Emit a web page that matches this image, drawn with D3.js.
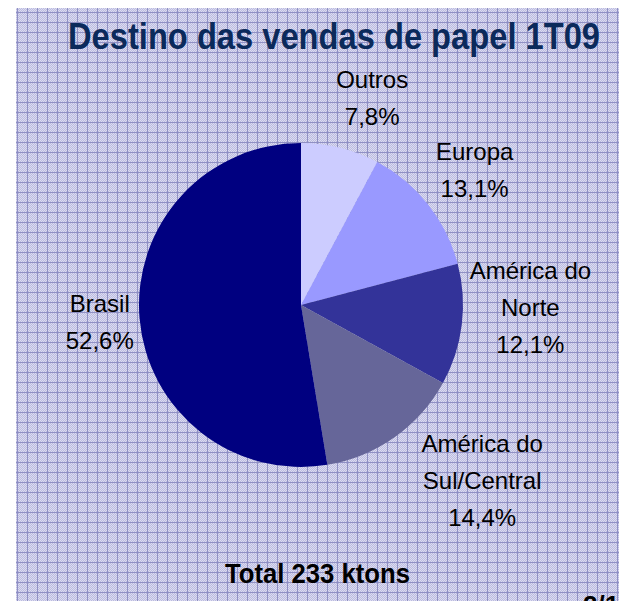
<!DOCTYPE html>
<html>
<head>
<meta charset="utf-8">
<script src="https://cdn.jsdelivr.net/npm/d3@7"></script>
<style>
  body { margin: 0; background: #fff; }
  svg { display: block; }
</style>
</head>
<body>
<svg id="chart" width="619" height="601"></svg>
<script>
// data
var categories = ["Outros", "Europa", "América do Norte", "América do Sul/Central", "Brasil"];
var shares = [7.8, 13.1, 12.1, 14.4, 52.6];
var labelLines = [["Outros", "7,8%"], ["Europa", "13,1%"], ["América do", "Norte", "12,1%"],
                  ["América do", "Sul/Central", "14,4%"], ["Brasil", "52,6%"]];
var sliceColors = ["#ccccff", "#9999ff", "#333399", "#666699", "#000080"];
var titleText = "Destino das vendas de papel 1T09";
var totalText = "Total 233 ktons";

var width = 619, height = 601;
var cx = 301, cy = 305, radius = 162;
// label nudges from the outer label ring (Excel placed them by hand-ish)
var labelNudge = [[19, 2], [5, -2], [16, -24], [57, 0], [13, -1]];

var svg = d3.select("#chart");
var defs = svg.append("defs");

// dithered checker
var chk = defs.append("pattern").attr("id", "chk")
    .attr("width", 2).attr("height", 2).attr("patternUnits", "userSpaceOnUse");
chk.append("rect").attr("width", 2).attr("height", 2).attr("fill", "#dcdcf0");
chk.append("rect").attr("width", 1).attr("height", 1).attr("fill", "#bcbce0");
chk.append("rect").attr("x", 1).attr("y", 1).attr("width", 1).attr("height", 1).attr("fill", "#bcbce0");

// grid cells
var grid = defs.append("pattern").attr("id", "grid")
    .attr("width", 10).attr("height", 10).attr("patternUnits", "userSpaceOnUse")
    .attr("x", 17).attr("y", 12);
grid.append("rect").attr("width", 10).attr("height", 10).attr("fill", "url(#chk)");
grid.append("rect").attr("width", 1).attr("height", 10).attr("fill", "#9090c4");
grid.append("rect").attr("width", 10).attr("height", 1).attr("fill", "#9090c4");

svg.append("rect")
    .attr("x", 16).attr("y", 8)
    .attr("width", width - 16).attr("height", height - 8)
    .attr("fill", "url(#grid)");

// title
svg.append("text")
    .attr("x", 68).attr("y", 49)
    .attr("textLength", 532).attr("lengthAdjust", "spacingAndGlyphs")
    .style("font-family", "'Liberation Sans', Arial, sans-serif")
    .style("font-weight", "bold").style("font-size", "36px")
    .attr("fill", "#0b2a5b")
    .text(titleText);

// pie
var color = d3.scaleOrdinal().domain(categories).range(sliceColors);
var pie = d3.pie().sort(null).value(function(d) { return d; });
var arcs = pie(shares);
var arc = d3.arc().innerRadius(0).outerRadius(radius);
var labelArc = d3.arc().innerRadius(215).outerRadius(215);

var g = svg.append("g").attr("transform", "translate(" + cx + "," + cy + ")");
g.selectAll("path")
    .data(arcs)
    .enter().append("path")
    .attr("d", arc)
    .attr("fill", function(d, i) { return color(categories[i]); });

// labels
var lineGap = 37;
arcs.forEach(function(d, i) {
    var c = labelArc.centroid(d);
    var lx = c[0] + labelNudge[i][0];
    var ly = c[1] + labelNudge[i][1];
    var lines = labelLines[i];
    var t = g.append("text")
        .attr("text-anchor", "middle")
        .style("font-family", "'Liberation Sans', Arial, sans-serif")
        .style("font-size", "24px")
        .attr("fill", "#000");
    lines.forEach(function(s, k) {
        t.append("tspan")
            .attr("x", lx)
            .attr("y", ly - (lines.length - 1) * lineGap / 2 + k * lineGap + 8.5)
            .text(s);
    });
});

// total
svg.append("text")
    .attr("x", 225).attr("y", 583)
    .attr("textLength", 185).attr("lengthAdjust", "spacingAndGlyphs")
    .style("font-family", "'Liberation Sans', Arial, sans-serif")
    .style("font-weight", "bold").style("font-size", "27px")
    .attr("fill", "#000")
    .text(totalText);

// page number cut off at the bottom edge
svg.append("text")
    .attr("x", 583).attr("y", 614)
    .style("font-family", "'Liberation Sans', Arial, sans-serif")
    .style("font-weight", "bold").style("font-size", "26px")
    .attr("fill", "#000")
    .text("2/15");
</script>
</body>
</html>
